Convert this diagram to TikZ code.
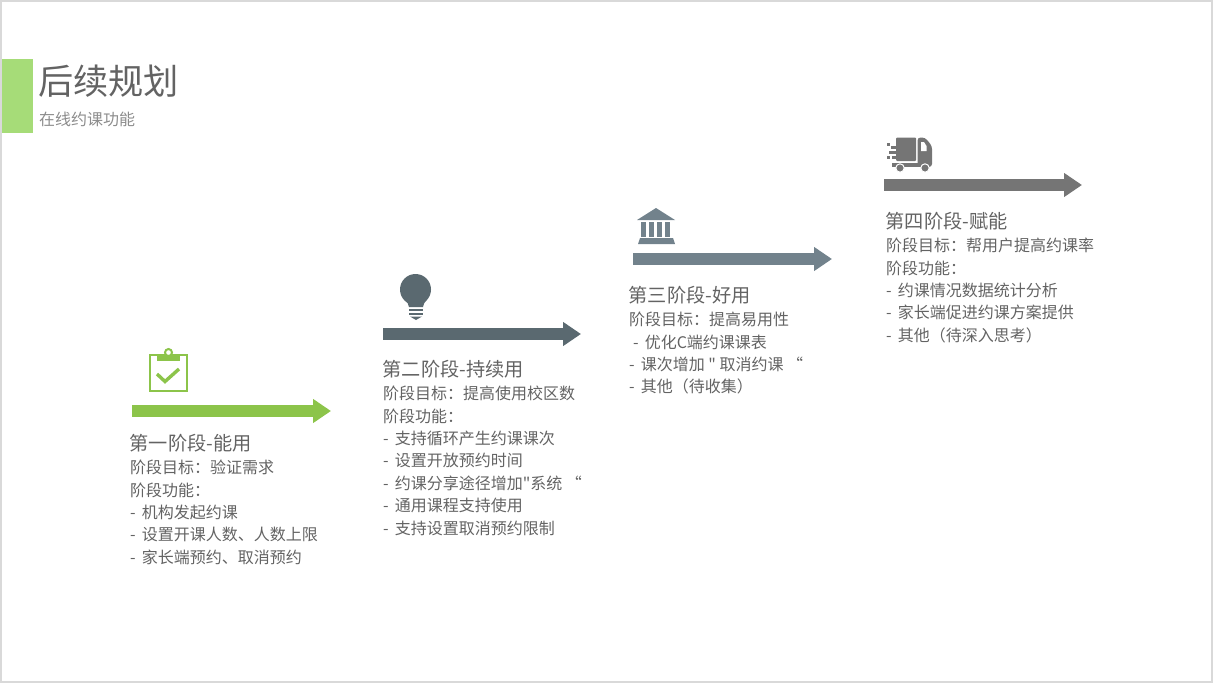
\documentclass[tikz,border=0pt]{standalone}
\usepackage{fontspec}
\usepackage{xcolor}
\setmainfont{Noto Sans CJK SC}
\newfontfamily\plainfont{Noto Sans CJK SC}
\usetikzlibrary{arrows.meta}

\definecolor{frameGray}{HTML}{D9D9D9}
\definecolor{barGreen}{HTML}{A6DC78}
\definecolor{textGray}{HTML}{636363}
\definecolor{subGray}{HTML}{8C8C8C}
\definecolor{stageOne}{HTML}{8CC44A}
\definecolor{stageTwo}{HTML}{5A6970}
\definecolor{stageThree}{HTML}{72828C}
\definecolor{stageFour}{HTML}{757575}

\newcommand{\dq}{{\plainfont\symbol{34}}}
\newcommand{\dash}{-\hspace{6pt}}

\begin{document}
\begin{tikzpicture}
      [ x=1pt, y=-1pt
      , title/.style={anchor=base west, inner sep=0pt, textGray, font=\fontsize{35.2pt}{40pt}\selectfont}
      , subtitle/.style={anchor=base west, inner sep=0pt, subGray, font=\fontsize{16pt}{20pt}\selectfont}
      , head/.style={anchor=base west, inner sep=0pt, textGray, font=\fontsize{19.2pt}{22pt}\selectfont}
      , body/.style={anchor=north west, inner sep=0pt, align=left, textGray, font=\fontsize{16pt}{22.4pt}\selectfont}
      , stage/.style={-{Triangle[length=18pt, width=23pt]}, line width=12pt}
      ]
    \useasboundingbox (0,0) rectangle (1213,683);
    \draw[frameGray, line width=2pt] (1,1) rectangle (1212,682);
    \fill[barGreen] (2,59) rectangle (33,133);

    \node[title] (T) at (38,94) {后续规划};
    \node[subtitle] (ST) at (39,125) {在线约课功能};

    \coordinate (A1s) at (132,411);
    \coordinate (A1e) at (331,411);
    \coordinate (A2s) at (383,334);
    \coordinate (A2e) at (581,334);
    \coordinate (A3s) at (633,259);
    \coordinate (A3e) at (832,259);
    \coordinate (A4s) at (884,185);
    \coordinate (A4e) at (1082,185);

    \draw[stage, stageOne] (A1s) -- (A1e);
    \draw[stage, stageTwo] (A2s) -- (A2e);
    \draw[stage, stageThree] (A3s) -- (A3e);
    \draw[stage, stageFour] (A4s) -- (A4e);

    \node[head] (H1) at (129.5,450) {第一阶段-能用};
    \node[body] (B1) at (130,460) {阶段目标：验证需求\\阶段功能：\\\dash 机构发起约课\\\dash 设置开课人数、人数上限\\\dash 家长端预约、取消预约};

    \node[head] (H2) at (382.5,376) {第二阶段-持续用};
    \node[body] (B2) at (383,386) {阶段目标：提高使用校区数\\阶段功能：\\\dash 支持循环产生约课课次\\\dash 设置开放预约时间\\\dash 约课分享途径增加\dq 系统 “\\\dash 通用课程支持使用\\\dash 支持设置取消预约限制};

    \node[head] (H3) at (628.5,302) {第三阶段-好用};
    \node[body] (B3) at (629,312) {阶段目标：提高易用性\\\hspace*{4pt}\dash 优化C端约课课表\\\dash 课次增加 \dq{} 取消约课 “\\\dash 其他（待收集）};

    \node[head] (H4) at (885.5,228) {第四阶段-赋能};
    \node[body] (B4) at (886,238) {阶段目标：帮用户提高约课率\\阶段功能：\\\dash 约课情况数据统计分析\\\dash 家长端促进约课方案提供\\\dash 其他（待深入思考）};

    % clipboard
    \draw[stageOne, line width=2pt] (150,354.5) rectangle (187,391);
    \fill[stageOne] (157,354) rectangle (180,361);
    \draw[stageOne, line width=2pt, fill=white] (168.5,352.5) circle (3.5);
    \draw[stageOne, line width=3.4pt] (157,374) -- (165,381.5) -- (179,369);

    % bulb
    \fill[stageTwo] (415.5,289.5) circle (15.5);
    \fill[stageTwo] (404,299.5) .. controls (407,302) and (409,304) .. (409,307) -- (423,307) .. controls (423,304) and (425,302) .. (427,299.5) -- cycle;
    \fill[stageTwo] (409,308.5) rectangle (423,311);
    \fill[stageTwo] (409,312.5) rectangle (423,315);
    \fill[stageTwo] (410,316.5) -- (422,316.5) -- (416,320) -- cycle;

    % bank
    \fill[stageThree] (656,208) -- (675,220) -- (637,220) -- cycle;
    \foreach \cx in {643.5,651.5,659.5,667.5}
      \fill[stageThree] (\cx-2.2,222) rectangle (\cx+2.2,237);
    \fill[stageThree] (640,238) -- (673,238) -- (675,244) -- (638,244) -- cycle;

    % truck
    \fill[stageFour, rounded corners=1pt] (896,137.5) rectangle (916,161);
    \fill[stageFour, rounded corners=3pt] (917.5,137.5) -- (925,137.5) -- (932,146) -- (932,167) -- (917.5,167) -- cycle;
    \fill[stageFour] (892,162.5) rectangle (920,167);
    \fill[white] (921,142) -- (924,142) -- (926.5,146) -- (926.5,151) -- (921,151) -- cycle;
    \fill[stageFour] (887,143) rectangle (889.5,145.5);
    \fill[stageFour] (891,145.5) rectangle (898,148.5);
    \fill[stageFour] (889,150.5) rectangle (898,153.5);
    \fill[stageFour] (892,155.5) rectangle (898,158.5);
    \fill[stageFour] (887,156) rectangle (890,158.5);
    \fill[white] (893,143) rectangle (896,145.5);
    \foreach \cx in {900,925}
      \draw[white, line width=1pt, fill=stageFour] (\cx,168) circle (4.2);
    \end{tikzpicture}
\end{document}
